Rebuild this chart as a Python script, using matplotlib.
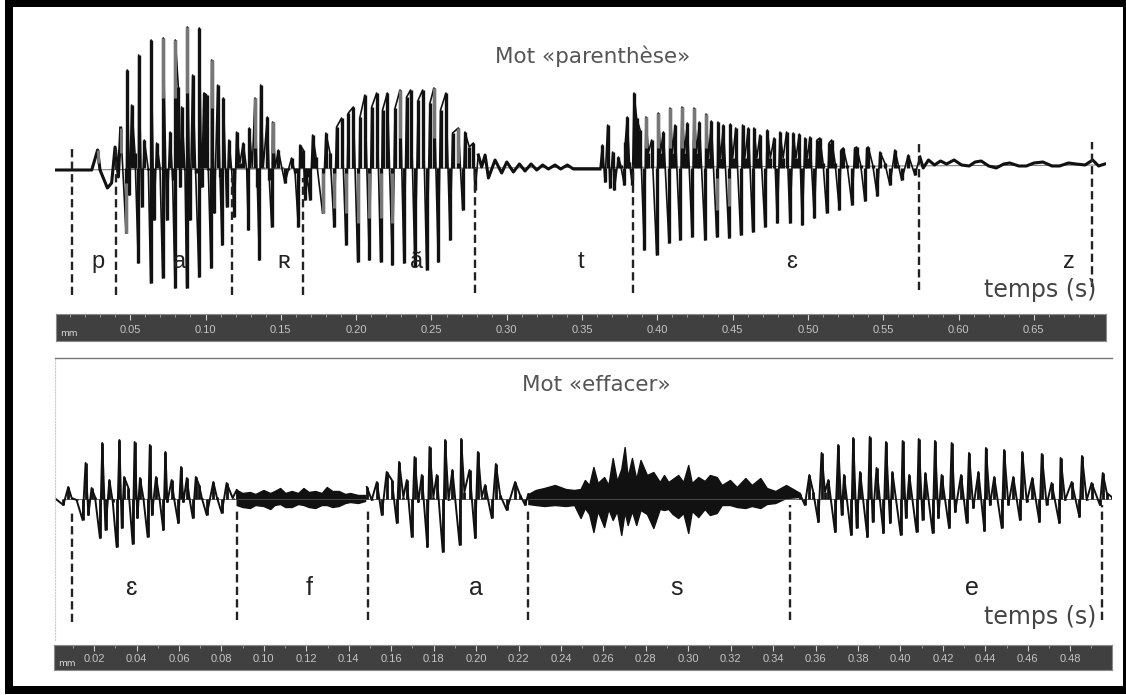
import numpy as np
import matplotlib
matplotlib.use("Agg")
import matplotlib.pyplot as plt
from matplotlib.patches import Rectangle

W, H = 1126, 695

# Mot parenthese : instants (ms) et amplitude (relue sur l'image)
haut_t = [0, 24.4, 28.3, 29.9, 34.8, 37.6, 39.9, 42.1, 43.6, 47.2, 48, 49.4, 50.9, 53.1, 55.3, 55.6, 57.6, 59.3, 62,
          63.5, 63.8, 65.7, 67.5, 69.7, 71.5, 71.9, 74.2, 76.4, 78.1, 79.7, 79.9, 81.9, 83, 84.1, 86.3,
          87.4, 87.9, 89.6, 91.4, 93.4, 95.6, 95.8, 97.4, 98.9, 100.7, 101.8, 103.6, 104, 105.8, 108, 109.6,
          110.9, 111.8, 114, 115.5, 117.3, 119.1, 120.6, 122.8, 125, 127.3, 128.4, 129, 131, 132.8, 134.4,
          135.7, 136.6, 138.3, 141, 142.3, 143.9, 144.5, 146.3, 148.3, 150.5, 152.7, 154.9, 157.1, 159.4,
          161.6, 162.7, 164.9, 166, 167.5, 169.3, 171.1, 173.3, 177.7, 179.9, 182.6, 185.3, 187, 190.3,
          193.2, 194.8, 198.1, 201, 202.5, 205.8, 208.7, 210.3, 213.6, 216.2, 217.5, 220.7, 224, 225.8,
          229.1, 231.7, 233.5, 236.1, 239, 241.2, 244.1, 246.8, 249, 251.6, 254.5, 256, 259.6, 262.3, 264,
          267.8, 270.7, 272.2, 275.1, 277.8, 278.9, 281.1, 283.3, 285.6, 287.8, 292.2, 296.6, 300, 304.4,
          308.4, 312.1, 316.1, 319.9, 323.8, 327.6, 332, 335.8, 340.2, 344.2, 361.9, 363.5, 365.2, 367,
          368.5, 370.3, 371.4, 374.1, 375.6, 378, 378.7, 380, 381.4, 383.4, 384.5, 386.2, 388.5, 391.3,
          392.4, 394, 396.2, 399.5, 400.6, 402, 404, 407.7, 408.4, 410, 411.7, 415, 416.3, 418, 419.9, 423,
          424.3, 426, 427.9, 431.6, 432.3, 434, 435.8, 439.4, 440.2, 442, 443.8, 447.5, 448.4, 450, 452,
          455.3, 456.6, 458, 460.4, 463.3, 464.1, 466, 468.1, 471.4, 473, 475, 477.5, 479.6, 481.4, 483.5,
          485.8, 488, 490.2, 492, 494.2, 496.2, 498, 499.5, 501.3, 504.2, 506, 507.9, 510, 512.4, 514,
          515.7, 518, 520.8, 522, 523.4, 526, 529.2, 531, 532.3, 535, 537.8, 539, 540, 543, 546, 547.8,
          551, 554.4, 557.7, 560, 562.2, 566.6, 571, 574.3, 576.5, 580, 584, 588, 592, 597, 602, 607, 611,
          615, 620, 625, 630, 634, 640, 645, 650, 656, 662, 667, 673, 678, 684, 689, 693, 697]
haut_a = [-2, -2, 18, -2, -20, -15, 21, -9, 40, -65, 98, -27, 63, 15, -95, 113, -39, 28, -2,
          -115, 128, -52, 25, 1, -110, 130, -52, 36, -12, -120, 128, 81, -19, 61, -2,
          -120, 141, -52, 93, -5, -109, 140, -19, 75, 73, -2, -100, 108, -45, 83, -9,
          -77, 70, -39, 28, -2, -49, 36, 5, 25, -2, -62, 40, 1, 70, -19,
          -92, 83, 1, 51, -12, -59, 46, 1, 18, 1, -15, -2, 10, -5,
          -59, 23, 18, -32, -9, -32, 33, 11, -45, 35, 15, -59, 41, 50,
          -77, 55, 61, -94, 51, 73, -92, 61, 75, -94, 58, 75, -97, 60,
          78, -95, 71, 78, -99, 68, 78, -102, 65, 80, -94, 58, 75, -72, 35,
          40, -42, 36, 21, 25, -22, 13, 1, 13, -10, 8, -5, 6, -4,
          4, -3, 4, -2, 3, -1, 3, -1, 3, -1, -1, 23, -14, 43,
          -20, 16, -22, 11, 3, -17, 26, 51, 6, -17, 75, 50, 38, -82,
          51, 15, 28, -87, 55, 15, 36, -75, 60, 15, 43, -72, 61, 15, 45, -69,
          60, 15, 46, -72, 54, 10, 47, -69, 46, 10, 43, -70, 44, 10, 40,
          -67, 43, 10, 40, -64, 40, 10, 33, -59, 38, 10, 30, -55, 36, 10,
          36, -55, 35, 10, 34, -57, 30, 10, 31, -50, 28, 30, 5, -45, 25,
          28, 5, -42, 18, 20, 3, -37, 20, 21, 3, -33, 20, 21, 3, -28, 16,
          5, -17, 18, 3, -12, 13, -7, 11, 0, 8, 3, 7, 4, 8, 3, 2, 6,
          7, 2, 0, 4, 5, 2, 2, 5, 6, 2, 2, 5, 4, 3, 8, 2, 4]

# Parties grises du trace (le scan alterne noir et gris)
gris_t = [28.3, 43.6, 47.2, 71.9, 79.9, 87.9, 104, 132.8, 144.5, 177.7, 185.3, 193.2, 201, 208.7, 216.2, 224,
          229.1, 251.6, 267.8, 392.4, 400.6, 408.4, 416.3, 424.3, 432.3, 439.4, 447.5]
gris_bas = [5, 15, -65, 70, 70, 75, 60, 20, 15, -45, -40, -45, -55, -50, -50, -55,
            30, 30, 5, 20, 20, 20, 20, 20, 20, -42, -38]
gris_haut = [18, 40, -15, 130, 128, 141, 108, 70, 46, -5, -5, -5, -5, -5, -5, -5,
             78, 80, 40, 51, 55, 60, 61, 60, 54, -10, -10]

# Mot effacer : parties voisees
bas_e_t = [0.6, 5.3, 7.6, 9.2, 11.5, 14.3, 15.7, 17, 18.5, 20.1, 22.4, 23.5, 25, 26.8, 28.4, 30.2, 31.5, 32.6, 33.7,
           35.7, 37.7, 38.6, 39.9, 41.1, 42.7, 44.7, 45.7, 46.7, 48.6, 50.2, 52, 53, 53.9, 55.9, 57, 59, 60.3,
           61.4, 63, 64.2, 65.8, 67.2, 68.7, 70, 72.3, 75.4, 77, 79.3, 81.6, 84.4, 86.3]
bas_e_a = [2, -6, 12, 1, -1, -21, 36, -16, 11, 2, -39, 56, -31, 19, -3, -48, 59, -29, 22,
           11, -45, 57, -19, 21, 1, -38, 54, -16, 22, 1, -31, 47, -3, 19, 1, -24, 32,
           -3, 21, 1, -19, 22, 14, 1, -16, 17, 2, -14, 16, 1, 9]
bas_a_t = [147.1, 149.4, 151.8, 154.1, 156.4, 158.8, 161.1, 162.2, 164.2, 165.8, 168.1, 169.4, 171.2, 172.8, 175.4,
           176.4, 178.2, 179.8, 182.6, 183.7, 185.3, 187.1, 190.5, 191.2, 192.7, 195.1, 197.7, 199, 200.8, 202.4,
           205.5, 207.4, 209.4, 212.5, 216.4, 218.7, 221.1, 222.6]
bas_a_a = [12, -1, 17, -16, 27, 19, -24, 37, 2, 19, -38, 42, -3, 24, -48,
           52, 2, 24, -53, 59, -1, 29, -46, 60, 7, 29, -39, 47, 2, 14,
           -19, 35, 4, -11, 17, 4, -6, 5]
bas_fin_t = [349.5, 351.8, 353.9, 355.7, 358.1, 359.6, 361.2, 362.8, 365.9, 367.4, 369, 370.1, 373.4, 374.4, 376, 377.6,
             381, 382.1, 383.5, 385.3, 388.5, 389.7, 391.6, 392.7, 396.6, 397.5, 399, 400.6, 404, 405, 406.8, 408.1,
             411.5, 412.6, 414.2, 415.7, 419.2, 420.4, 422, 424.8, 427.4, 428.5, 430.5, 432.9, 435.7, 436.4, 438.3,
             440.3, 443.8, 444.9, 446.9, 449.2, 452.3, 453.4, 455.5, 458.1, 461.4, 462.5, 464.8, 467.1, 470.7, 471.3,
             473.4, 476.5, 480.1, 481.3, 483.5, 485.8, 489.7, 491, 492.9, 495.2]
bas_fin_a = [5, -6, 24, 7, -23, 46, 7, 19, -33, 54, -16, 24, -36, 61, -29, 27,
             -38, 62, -23, 31, -34, 57, -24, 27, -36, 58, -19, 24, -33, 60, -21, 26,
             -34, 58, -19, 24, -29, 56, -13, 24, -24, 46, -9, 27, -32, 51, -6,
             22, -29, 49, -6, 22, -21, 47, -3, 21, -23, 45, -6, 16, -24, 41,
             -1, 17, -18, 43, -1, 16, -6, 26, 6, 2]

# Fricatives : enveloppes
f_t = [86.3, 89, 92.5, 95, 98.8, 102, 104, 106.6, 109, 112, 115, 117.5, 120, 123, 126, 128.4, 131, 134, 137, 139.3,
       143, 146.3]
f_haut = [9, 6, 7, 5, 9, 6, 8, 11, 6, 8, 6, 11, 7, 8, 6, 12, 8, 8, 5, 6, 4, 4]
f_bas = [-6, -8, -9, -6, -7, -10, -6, -5, -8, -8, -5, -6, -8, -9, -6, -6, -8, -7, -4, -3, -4, -2]
s_t = [222.6, 226, 230, 235, 240, 244, 247, 249, 251, 253, 255, 258, 260, 262, 264, 266, 267.6, 269, 271, 273, 275,
       278, 281, 284, 286, 288, 290, 292.6, 295, 297.3, 299, 302, 305, 307.4, 310.6, 313, 316.8, 320, 324, 327,
       331, 334, 338, 343, 349.5]
s_haut = [5, 9, 11, 14, 10, 9, 10, 19, 14, 32, 16, 22, 14, 41, 18, 30, 52, 22, 41, 20, 39,
          24, 27, 17, 24, 17, 20, 24, 17, 34, 16, 22, 18, 24, 22, 14, 19, 12, 21, 14,
          21, 11, 8, 14, 6]
s_bas = [-5, -6, -7, -6, -7, -6, -19, -9, -15, -33, -12, -28, -10, -21, -12, -36, -13, -26, -12, -26, -11,
         -15, -29, -10, -11, -10, -15, -19, -14, -34, -12, -18, -10, -16, -14, -6, -6, -8, -9, -7,
         -9, -5, -4, 1, 2]

# Segmentation (ms)
haut_seg = [11.1, 40.3, 117.3, 164.9, 279, 383.6, 573.5, 688.8]
haut_seg_sup = [22, 22, -10, -10, 1, 3, 25, 26]
haut_seg_inf = [-127, -127, -127, -127, -125, -125, -122, -119]
bas_seg = [9.2, 86.3, 147.5, 222.6, 344.9, 490.5]
bas_seg_sup = [-14, -11, -11, -11, -6, -6]
bas_seg_inf = [-123, -121, -121, -121, -121, -121]

haut_sons = ["p", "a", "ʀ", "ã", "t", "ɛ", "z"]
haut_sons_t = [28.5, 83, 152, 240, 349, 489, 673]
bas_sons = ["ɛ", "f", "a", "s", "e"]
bas_sons_t = [37, 120, 198, 292, 430]

regle_haut_ticks = [0.05, 0.10, 0.15, 0.20, 0.25, 0.30, 0.35, 0.40, 0.45, 0.50, 0.55, 0.60, 0.65]
regle_bas_ticks = [0.02, 0.04, 0.06, 0.08, 0.10, 0.12, 0.14, 0.16, 0.18, 0.20, 0.22, 0.24, 0.26, 0.28,
                   0.30, 0.32, 0.34, 0.36, 0.38, 0.40, 0.42, 0.44, 0.46, 0.48]


def zone(x0, y0, x1, y1):
    # rectangle en pixels de l'image vers coordonnees de figure
    return [x0 / W, 1 - y1 / H, (x1 - x0) / W, (y1 - y0) / H]


def regle(x0, y0, x1, y1, echelle, debut, ticks, mineur):
    ax = fig.add_axes(zone(x0, y0, x1, y1))
    ax.set_facecolor("#404040")
    ax.set_xlim(debut, debut + (x1 - x0) / echelle)
    ax.set_ylim(0, 1)
    ax.set_yticks([])
    ax.set_xticks(ticks)
    ax.set_xticklabels(["%.2f" % v for v in ticks], color="#c4c4c4", fontsize=8, family="Liberation Sans")
    ax.set_xticks(np.arange(mineur, debut + (x1 - x0) / echelle, mineur), minor=True)
    ax.tick_params(axis="x", which="major", direction="in", bottom=False, top=True, length=4, width=0.8,
                   color="#d0d0d0", pad=-11.5)
    ax.tick_params(axis="x", which="minor", direction="in", bottom=False, top=True, length=2, width=0.6,
                   color="#a8a8a8")
    for s in ax.spines.values():
        s.set_color("#8a8a8a")
        s.set_linewidth(0.8)
    ax.text(0.004, 0.28, "mm", transform=ax.transAxes, color="#d8d8d8", fontsize=6.5, va="center")


fig = plt.figure(figsize=(W / 100, H / 100), dpi=100)
fig.patch.set_facecolor("white")

# Cadre noir
for x0, y0, x1, y1 in [(5, 0, 1126, 7), (5, 0, 13, 694), (1123, 0, 1126, 694), (5, 686, 1126, 694)]:
    fig.add_artist(Rectangle((x0 / W, 1 - y1 / H), (x1 - x0) / W, (y1 - y0) / H,
                             transform=fig.transFigure, color="black", lw=0))

# Panneau du haut : 1.506 px/ms, ligne de base a y=168
ax1 = fig.add_axes(zone(55, 15, 1106, 305))
ax1.set_xlim(0, 1051 / 1.506)
ax1.set_ylim(168 - 305, 168 - 15)
ax1.plot([0, 697], [-2, 3], color="#555555", lw=0.6)
th, ah = np.array(haut_t), np.array(haut_a)
ax1.plot(th, ah, color="#111111", lw=1.2)
# pics verticaux seulement dans les voyelles, les zones calmes restent un trait epais
calme = (th < 44) | ((th > 281) & (th < 362)) | (th > 574)
ax1.vlines(th[~calme], 0, ah[~calme], color="#111111", lw=2.4)
for debut, fin in [(0, 44), (281, 362), (574, 700)]:
    m = (th >= debut) & (th <= fin)
    ax1.plot(th[m], ah[m], color="#111111", lw=2.2)
ax1.vlines(gris_t, gris_bas, gris_haut, color="#777777", lw=2.2)
ax1.vlines(haut_seg, haut_seg_inf, haut_seg_sup, color="#222222", lw=1.7, linestyle=(0, (3.5, 1.8)))
ax1.axis("off")

# Panneau du bas : 2.14 px/ms, ligne de base a y=499
ax2 = fig.add_axes(zone(55, 358, 1112, 640))
ax2.set_xlim(1.4, 1.4 + 1057 / 2.14)
ax2.set_ylim(499 - 640, 499 - 358)
ax2.plot([5, 495], [0, 0], color="#555555", lw=0.6)
for t, a in [(bas_e_t, bas_e_a), (bas_a_t, bas_a_a), (bas_fin_t, bas_fin_a)]:
    ax2.plot(t, a, color="#111111", lw=1.4)
    ax2.vlines(t, 0, a, color="#111111", lw=2.0)
ax2.fill_between(f_t, f_bas, f_haut, color="#111111", lw=1)
ax2.fill_between(s_t, s_bas, s_haut, color="#111111", lw=1)
ax2.vlines(bas_seg, bas_seg_inf, bas_seg_sup, color="#222222", lw=1.7, linestyle=(0, (3.5, 1.8)))
for c in ["right", "bottom"]:
    ax2.spines[c].set_visible(False)
ax2.spines["top"].set_color("#777777")
ax2.spines["top"].set_linewidth(1.0)
ax2.spines["left"].set_color("#cccccc")
ax2.spines["left"].set_linestyle(":")
ax2.spines["left"].set_linewidth(0.8)
ax2.set_xticks([])
ax2.set_yticks([])
ax2.patch.set_alpha(0)

# Regles de temps
regle(56, 314, 1106, 341, 1506, 0.0007, regle_haut_ticks, 0.01)
regle(54, 645, 1112, 670, 2122, 0.0011, regle_bas_ticks, 0.01)

# Textes
for s, t in zip(haut_sons, haut_sons_t):
    ax1.text(t, 168 - 262, s, ha="center", va="center", fontsize=17, color="#222222",
             family=["Liberation Sans", "DejaVu Sans"])
for s, t in zip(bas_sons, bas_sons_t):
    ax2.text(t, 499 - 588, s, ha="center", va="center", fontsize=18, color="#222222",
             family=["Liberation Sans", "DejaVu Sans"])
police = ["DejaVu Sans"]
fig.text(593 / W, 1 - 56 / H, "Mot «parenthèse»", ha="center", va="center", fontsize=15.5, color="#555555", family=police)
fig.text(596 / W, 1 - 385 / H, "Mot «effacer»", ha="center", va="center", fontsize=15.5, color="#555555", family=police)
fig.text(1040 / W, 1 - 290 / H, "temps (s)", ha="center", va="center", fontsize=17, color="#444444", family=police)
fig.text(1040 / W, 1 - 617 / H, "temps (s)", ha="center", va="center", fontsize=17, color="#444444", family=police)

fig.savefig("out.png", dpi=100)
